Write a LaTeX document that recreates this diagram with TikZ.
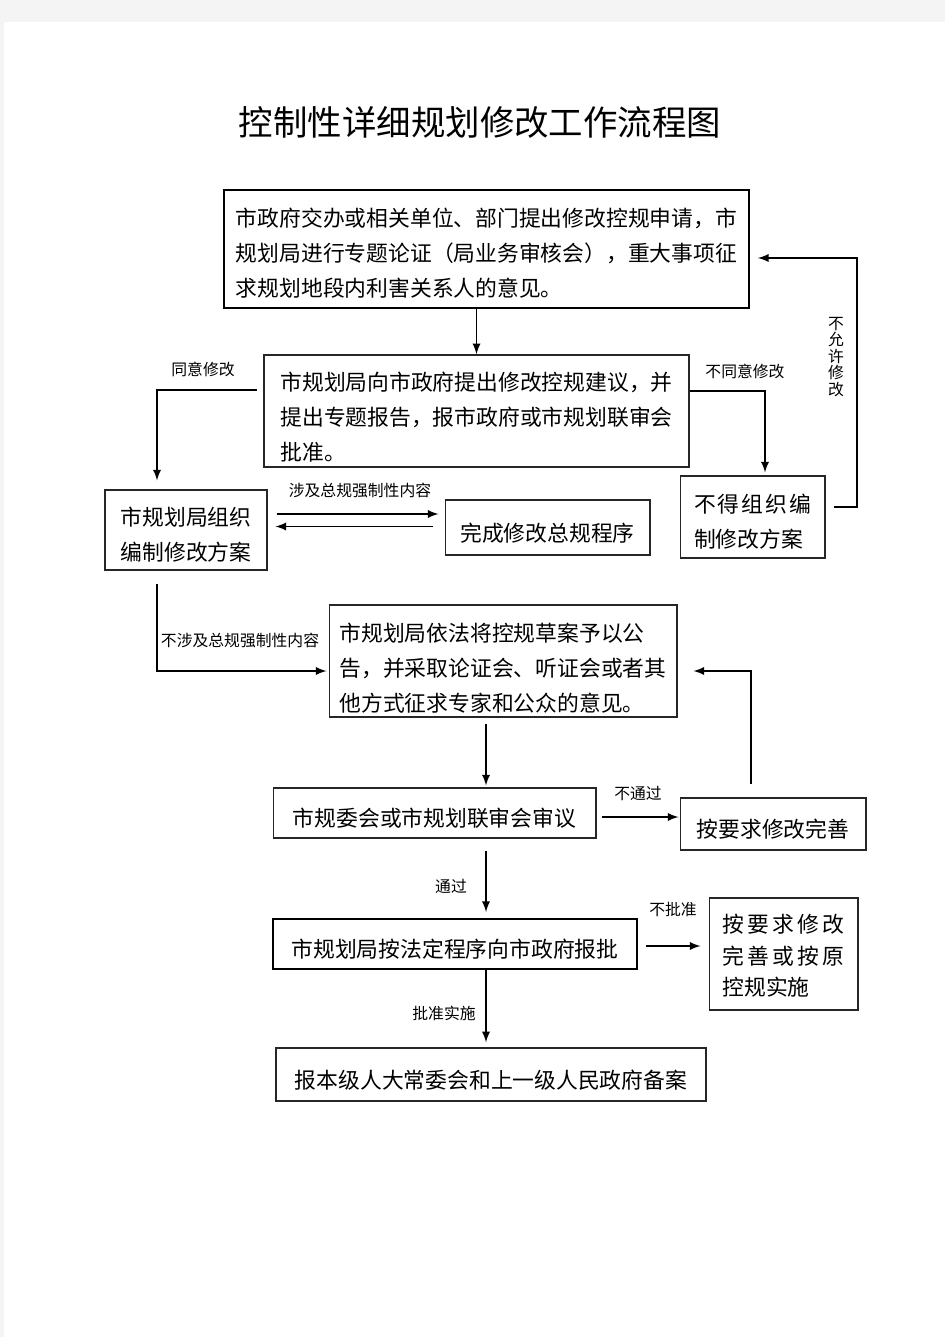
\documentclass[tikz,border=0pt]{standalone}
\usepackage{fontspec}
\setmainfont{Noto Sans CJK SC}
\usetikzlibrary{arrows,calc}
\definecolor{pagegray}{RGB}{244,244,244}
\newcommand{\padtop}[1]{\rule{0pt}{#1}}
\tikzset{>=latex}
\tikzset{stepbox/.style={draw=black!85, line width=0.6pt, align=left, inner sep=0pt,
    font=\fontsize{12.4}{19.8}\selectfont},
  onerow/.style={text height=17pt, text depth=1.5pt},
  flow/.style={->, line width=1.1pt},
  tag/.style={inner sep=0pt, font=\fontsize{9}{10.2}\selectfont}}

\begin{document}
\begin{tikzpicture}[x=0.02cm, y=-0.02cm]
    \useasboundingbox (0,0) rectangle (945,1337);
    \fill[pagegray] (0,0) rectangle (945,1337);
    \fill[white] (4,22) rectangle (945,1337);

    \node[inner sep=0pt, font=\fontsize{19.6}{22}\selectfont] (title) at (480,122) {控制性详细规划修改工作流程图};

    \node[stepbox, draw=black, line width=1.1pt, minimum width=10.5cm, minimum height=2.36cm] (apply) at (486.5,249)
      {\padtop{15.5pt}市政府交办或相关单位、部门提出修改控规申请，市\\规划局进行专题论证（局业务审核会），重大事项征\\求规划地段内利害关系人的意见。};
    \node[stepbox, line width=0.9pt, minimum width=8.5cm, minimum height=2.24cm] (propose) at (476.5,411)
      {\padtop{17.7pt}市规划局向市政府提出修改控规建议，并\\提出专题报告，报市政府或市规划联审会\\批准。};
    \node[stepbox, minimum width=3.24cm, minimum height=1.6cm] (organize) at (186,530)
      {\padtop{16pt}市规划局组织\\编制修改方案};
    \node[stepbox, onerow, minimum width=4.1cm, minimum height=1.1cm] (master) at (547.5,527.5)
      {完成修改总规程序};
    \node[stepbox, minimum width=2.9cm, minimum height=1.64cm] (forbid) at (752.5,517)
      {\padtop{15.5pt}{\addfontfeature{LetterSpace=9}不得组织编}\\制修改方案};
    \node[stepbox, minimum width=6.96cm, minimum height=2.24cm] (publish) at (503,661)
      {\padtop{18.9pt}市规划局依法将控规草案予以公\\告，并采取论证会、听证会或者其\\他方式征求专家和公众的意见。};
    \node[stepbox, onerow, minimum width=6.46cm, minimum height=1cm] (review) at (434.5,813)
      {市规委会或市规划联审会审议};
    \node[stepbox, onerow, minimum width=3.72cm, minimum height=1.04cm] (amend) at (773,824)
      {按要求修改完善};
    \node[stepbox, onerow, draw=black, line width=1.1pt, minimum width=7.28cm, minimum height=1cm] (submit) at (455,944)
      {市规划局按法定程序向市政府报批};
    \node[stepbox, font=\fontsize{12.4}{18.1}\selectfont, minimum width=2.98cm, minimum height=2.24cm] (keep) at (783.5,954)
      {\padtop{12.5pt}{\addfontfeature{LetterSpace=15}按要求修改}\\{\addfontfeature{LetterSpace=15}完善或按原}\\控规实施};
    \node[stepbox, onerow, line width=0.8pt, minimum width=8.6cm, minimum height=1.06cm] (record) at (491,1074.5)
      {报本级人大常委会和上一级人民政府备案};

    \coordinate (agreeturn) at (157,390);
    \coordinate (refuseturn) at (765,391);
    \coordinate (denylow) at (857,507);
    \coordinate (denyhigh) at (857,258);
    \coordinate (sideturn) at (157,671);
    \coordinate (backturn) at (751,671);
    \coordinate (spine) at (486,0);

    \draw[flow] (propose.north |- apply.south) -- (propose.north);
    \draw[flow, shorten <=0.12cm, shorten >=0.18cm] (propose.west |- agreeturn) -- (agreeturn) -- (agreeturn |- organize.north);
    \draw[flow, shorten >=0.06cm] (propose.east |- refuseturn) -- (refuseturn) -- (refuseturn |- forbid.north);
    \draw[flow, shorten <=0.16cm, shorten >=0.16cm] (forbid.east |- denylow) -- (denylow) -- (denyhigh) -- (apply.east |- denyhigh);
    \draw[flow, shorten <=0.18cm, shorten >=0.12cm] ([yshift=0.32cm]organize.east) -- ([yshift=0.32cm]organize.east -| master.west);
    \draw[flow, shorten <=0.24cm, shorten >=0.16cm] ([yshift=0.02cm]master.west) -- ([yshift=0.02cm]master.west -| organize.east);
    \draw[flow, shorten <=0.26cm, shorten >=0.04cm] (sideturn |- organize.south) -- (sideturn) -- (publish.west |- sideturn);
    \draw[flow, shorten <=0.12cm, shorten >=0.04cm] (spine |- publish.south) -- (spine |- review.north);
    \draw[flow, shorten <=0.1cm, shorten >=0.02cm] ([yshift=-0.08cm]review.east) -- ([yshift=-0.08cm]review.east -| amend.west);
    \draw[flow, shorten <=0.26cm, shorten >=0.32cm] (backturn |- amend.north) -- (backturn) -- (publish.east |- backturn);
    \draw[flow, shorten <=0.24cm, shorten >=0.12cm] (spine |- review.south) -- (spine |- submit.north);
    \draw[flow, shorten <=0.16cm, shorten >=0.16cm] ([yshift=-0.04cm]submit.east) -- ([yshift=-0.04cm]submit.east -| keep.west);
    \draw[flow, shorten >=0.1cm] (spine |- submit.south) -- (spine |- record.north);

    \node[tag] (agreetag) at (203,369) {同意修改};
    \node[tag] (refusetag) at (745,371) {不同意修改};
    \node[tag, align=center, font=\fontsize{9}{9.4}\selectfont] (denytag) at (836,357) {不\\允\\许\\修\\改};
    \node[tag] (involvetag) at (360,490) {涉及总规强制性内容};
    \node[tag] (sidetag) at (240,640) {不涉及总规强制性内容};
    \node[tag] (failtag) at (638,793) {不通过};
    \node[tag] (passtag) at (451,886) {通过};
    \node[tag] (rejecttag) at (673,909) {不批准};
    \node[tag] (approvetag) at (444,1013) {批准实施};
\end{tikzpicture}
\end{document}
